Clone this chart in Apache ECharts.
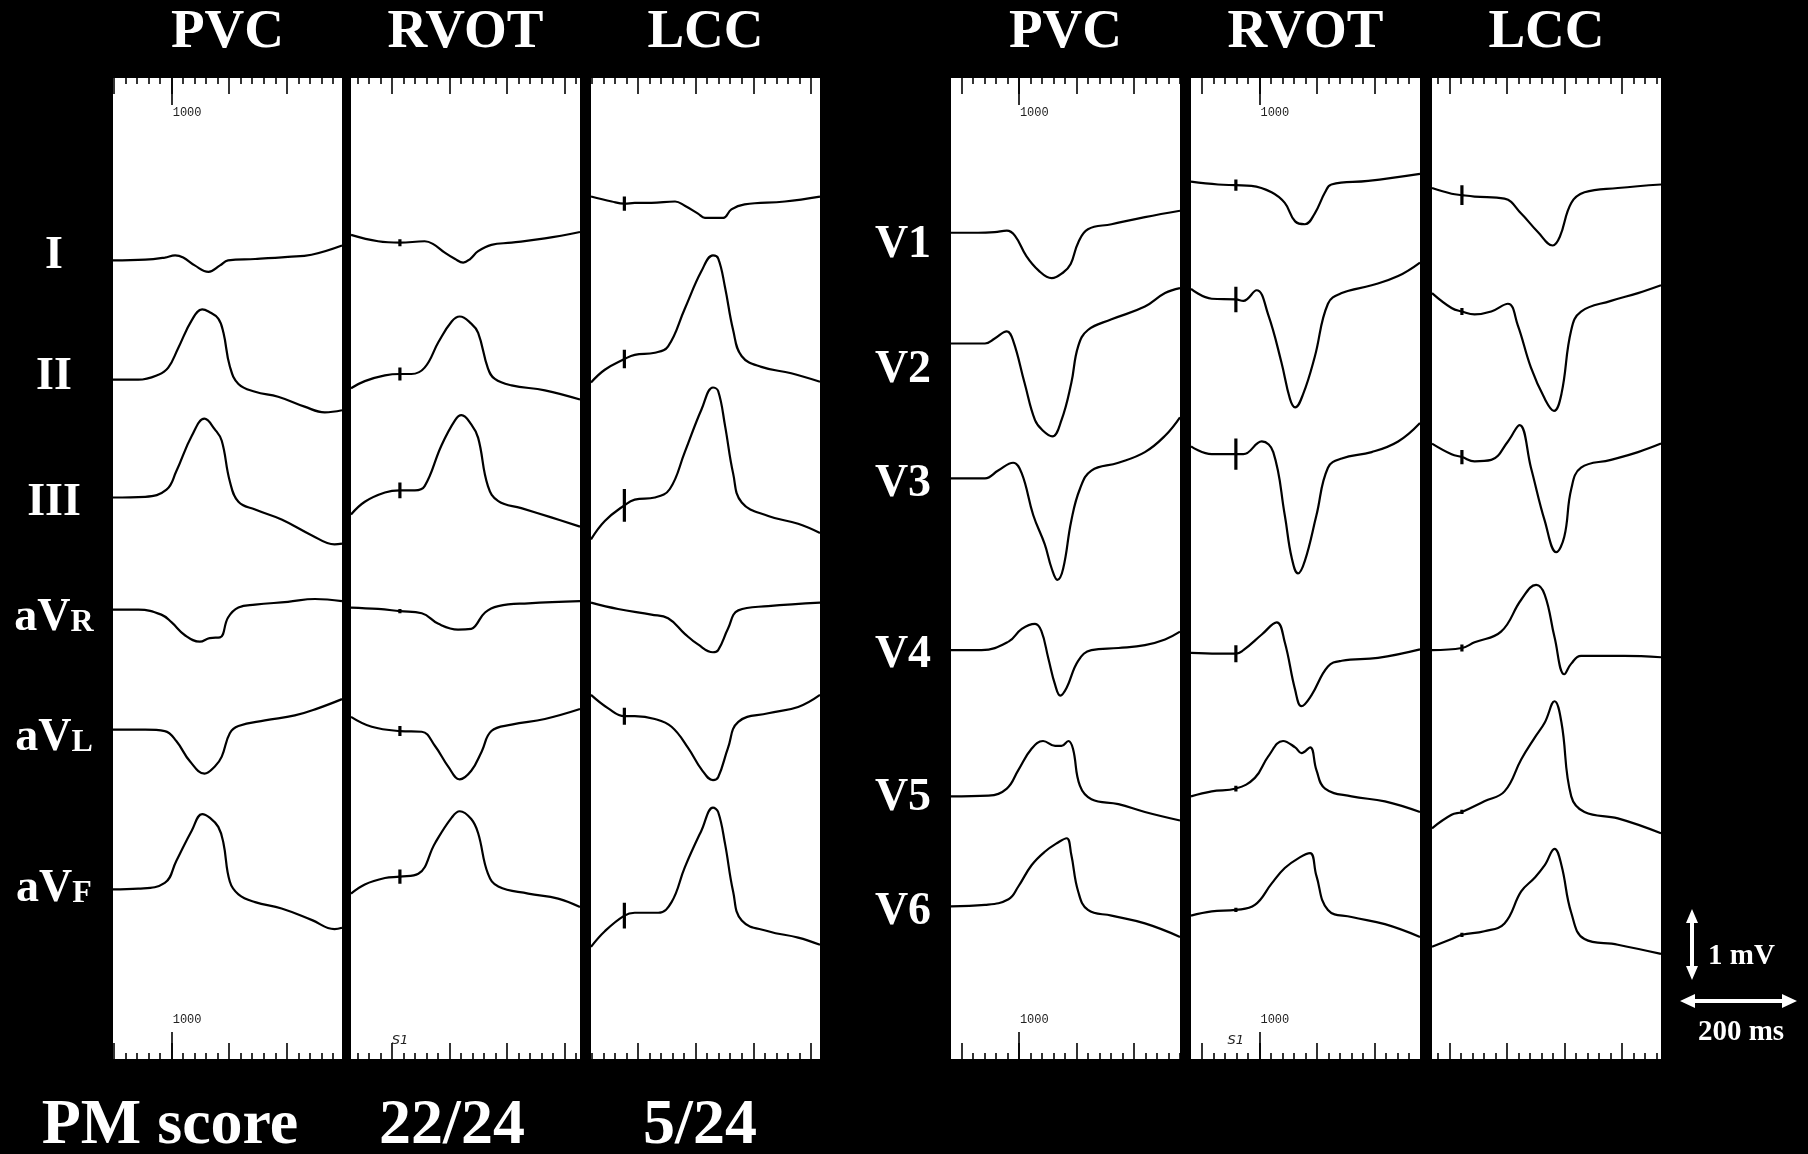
<!DOCTYPE html>
<html><head><meta charset="utf-8">
<script src="https://cdn.jsdelivr.net/npm/echarts@6/dist/echarts.min.js"></script>
<style>html,body{margin:0;padding:0;background:#000;}#c{width:1808px;height:1154px;}</style>
</head><body><div id="c"></div>
<script>
// ---------- labels ----------
const panelTitles = ['PVC', 'RVOT', 'LCC', 'PVC', 'RVOT', 'LCC'];
const limbLeads = ['I', 'II', 'III', 'aVR', 'aVL', 'aVF'];
const precordialLeads = ['V1', 'V2', 'V3', 'V4', 'V5', 'V6'];
const scoreTexts = ['PM score', '22/24', '5/24'];
const rulerLabel = '1000';
const stimLabel = 'S1';
const calibTexts = ['1 mV', '200 ms'];

// row baselines (mV above the bottom of each strip)
const rowBaseLimb = [11.24, 9.61, 7.90, 6.30, 4.65, 2.39];
const rowBasePrecordial = [11.68, 10.08, 8.18, 5.72, 3.70, 2.15];
const SPAN_MS = 398;      // time shown in each strip
const SPAN_MV = 13.82;    // voltage range of each strip

// ruler: first major tick (ms), long "1000" tick (ms)
const rulerPhase = [2, 71, 82, 18, 19, 30];
const rulerLongTick = [102, null, null, 118, 119, null];
// pacing stimulus time (ms) per strip
const stimTime = [null, 85, 58, null, 78, 52];

// ---------- traces: [ms, mV relative to row baseline] ----------
const PVC_I = [[0,0.01],[56,0.02],[90,0.05],[108,0.08],[122,0.05],[142,-0.06],[166,-0.15],[186,-0.06],[200,0.01],[247,0.03],[304,0.06],[345,0.09],[398,0.22]];
const PVC_II = [[0,-0.04],[44,-0.04],[79,0.03],[96,0.13],[113,0.40],[137,0.80],[155,0.95],[166,0.92],[183,0.82],[192,0.62],[203,0.15],[218,-0.10],[247,-0.21],[287,-0.28],[333,-0.42],[368,-0.50],[398,-0.47]];
const PVC_III = [[0,0.01],[56,0.02],[93,0.12],[110,0.38],[137,0.88],[159,1.12],[177,0.97],[189,0.81],[203,0.24],[218,-0.05],[247,-0.16],[293,-0.30],[345,-0.52],[385,-0.65],[398,-0.64]];
const PVC_aVR = [[0,0.03],[44,0.03],[84,-0.04],[102,-0.15],[125,-0.33],[151,-0.42],[168,-0.37],[186,-0.36],[200,-0.08],[218,0.06],[247,0.10],[304,0.14],[351,0.18],[398,0.15]];
const PVC_aVL = [[0,-0.01],[56,-0.01],[90,-0.03],[110,-0.17],[134,-0.46],[159,-0.63],[177,-0.53],[189,-0.39],[203,-0.06],[218,0.04],[264,0.12],[316,0.19],[356,0.29],[398,0.42]];
const PVC_aVF = [[0,0],[44,0.01],[90,0.09],[110,0.40],[137,0.83],[155,1.06],[168,1.01],[183,0.88],[192,0.65],[203,0.11],[218,-0.07],[247,-0.18],[293,-0.27],[345,-0.43],[385,-0.56],[398,-0.54]];

const RVOT_I = [[0,0.37],[47,0.28],[85,0.26],[128,0.28],[143,0.24],[163,0.12],[181,0.03],[195,-0.02],[207,0.03],[221,0.14],[244,0.23],[279,0.26],[337,0.32],[398,0.41]];
const RVOT_II = [[0,-0.16],[24,-0.06],[59,0.02],[85,0.04],[105,0.04],[128,0.13],[152,0.49],[175,0.78],[189,0.85],[209,0.75],[221,0.62],[238,0.12],[250,-0.03],[279,-0.12],[337,-0.19],[398,-0.32]];
const RVOT_III = [[0,-0.23],[24,-0.05],[59,0.08],[85,0.11],[111,0.11],[128,0.17],[157,0.74],[181,1.10],[192,1.17],[209,1.04],[221,0.85],[238,0.17],[256,-0.04],[296,-0.14],[348,-0.27],[398,-0.40]];
const RVOT_aVR = [[0,0.06],[47,0.04],[85,0.01],[123,-0.02],[152,-0.17],[186,-0.25],[209,-0.24],[216,-0.20],[233,-0.01],[256,0.08],[308,0.12],[398,0.15]];
const RVOT_aVL = [[0,0.17],[36,0.03],[85,-0.03],[123,-0.04],[146,-0.24],[169,-0.53],[189,-0.71],[209,-0.59],[227,-0.32],[244,-0.03],[279,0.06],[337,0.14],[398,0.28]];
const RVOT_aVF = [[0,-0.06],[24,0.07],[59,0.16],[85,0.18],[117,0.22],[146,0.65],[175,1.01],[189,1.10],[209,0.99],[221,0.79],[238,0.22],[256,0.04],[308,-0.06],[360,-0.13],[398,-0.25]];

const LCC_I = [[0,0.91],[36,0.84],[58,0.81],[76,0.82],[105,0.82],[146,0.84],[163,0.78],[186,0.67],[198,0.61],[215,0.61],[230,0.61],[244,0.73],[267,0.80],[337,0.84],[398,0.91]];
const LCC_II = [[0,-0.08],[24,0.10],[58,0.25],[76,0.31],[111,0.34],[134,0.43],[163,0.96],[192,1.49],[212,1.71],[221,1.67],[233,1.26],[247,0.66],[262,0.29],[296,0.14],[348,0.05],[398,-0.07]];
const LCC_III = [[0,-0.58],[24,-0.32],[58,-0.10],[76,-0.02],[111,0.01],[137,0.13],[163,0.65],[192,1.25],[212,1.56],[221,1.51],[233,1.02],[247,0.35],[262,-0.06],[308,-0.25],[360,-0.36],[398,-0.49]];
const LCC_aVR = [[0,0.13],[47,0.04],[105,-0.04],[134,-0.09],[163,-0.31],[186,-0.46],[212,-0.57],[221,-0.54],[238,-0.24],[256,0.02],[308,0.08],[398,0.13]];
const LCC_aVL = [[0,0.48],[30,0.29],[58,0.18],[76,0.18],[111,0.14],[140,0.03],[169,-0.27],[192,-0.57],[212,-0.72],[221,-0.68],[238,-0.27],[256,0.10],[308,0.22],[360,0.31],[398,0.48]];
const LCC_aVF = [[0,-0.81],[24,-0.59],[58,-0.37],[76,-0.33],[117,-0.33],[140,-0.18],[163,0.31],[192,0.83],[212,1.15],[221,1.09],[233,0.64],[247,-0.03],[262,-0.44],[308,-0.59],[360,-0.68],[398,-0.78]];

const PVC_V1 = [[0,-0.04],[47,-0.04],[76,-0.03],[97,-0.01],[111,-0.08],[131,-0.37],[152,-0.57],[175,-0.68],[195,-0.60],[208,-0.48],[221,-0.18],[238,0.01],[279,0.08],[337,0.18],[398,0.27]];
const PVC_V2 = [[0,0],[59,0],[76,0.07],[97,0.17],[108,0.04],[128,-0.56],[146,-1.08],[160,-1.23],[176,-1.31],[192,-1.08],[209,-0.56],[221,-0.04],[238,0.19],[279,0.34],[337,0.52],[372,0.71],[398,0.78]];
const PVC_V3 = [[0,0],[59,0],[82,0.11],[108,0.22],[123,0.07],[143,-0.52],[163,-0.93],[175,-1.27],[185,-1.43],[195,-1.27],[209,-0.60],[224,-0.15],[244,0.11],[291,0.22],[337,0.37],[372,0.60],[398,0.86]];
const PVC_V4 = [[0,0.04],[53,0.04],[100,0.16],[123,0.34],[146,0.41],[157,0.31],[169,-0.07],[181,-0.45],[190,-0.60],[201,-0.49],[221,-0.11],[244,0.04],[291,0.07],[337,0.11],[372,0.19],[398,0.30]];
const PVC_V5 = [[0,0],[65,0.01],[97,0.11],[117,0.37],[140,0.67],[160,0.78],[181,0.71],[192,0.71],[204,0.78],[212,0.67],[224,0.15],[244,-0.04],[291,-0.11],[337,-0.22],[398,-0.34]];
const PVC_V6 = [[0,0],[59,0.02],[100,0.10],[117,0.28],[140,0.58],[163,0.77],[186,0.90],[201,0.96],[209,0.73],[221,0.21],[238,-0.05],[279,-0.13],[337,-0.24],[398,-0.43]];

const RVOT_V1 = [[0,0.68],[47,0.64],[78,0.63],[105,0.62],[140,0.53],[163,0.38],[181,0.12],[198,0.08],[215,0.23],[233,0.53],[244,0.64],[308,0.69],[398,0.79]];
const RVOT_V2 = [[0,0.77],[36,0.63],[78,0.62],[91,0.60],[114,0.75],[134,0.41],[157,-0.26],[172,-0.78],[181,-0.90],[195,-0.71],[215,-0.19],[238,0.56],[262,0.71],[314,0.82],[360,0.95],[398,1.14]];
const RVOT_V3 = [[0,0.45],[36,0.34],[78,0.34],[91,0.34],[123,0.52],[143,0.37],[163,-0.52],[175,-1.12],[186,-1.34],[198,-1.16],[218,-0.52],[238,0.15],[262,0.28],[314,0.37],[360,0.52],[398,0.78]];
const RVOT_V4 = [[0,0],[47,-0.01],[78,-0.01],[91,0.04],[123,0.26],[149,0.43],[163,0.15],[181,-0.52],[192,-0.75],[209,-0.60],[238,-0.19],[262,-0.11],[325,-0.07],[398,0.05]];
const RVOT_V5 = [[0,0],[36,0.07],[78,0.11],[111,0.26],[134,0.56],[160,0.78],[181,0.69],[192,0.61],[207,0.69],[218,0.37],[233,0.11],[279,0],[337,-0.07],[398,-0.22]];
const RVOT_V6 = [[0,-0.13],[36,-0.07],[78,-0.05],[111,0.02],[140,0.32],[163,0.54],[189,0.69],[207,0.75],[218,0.43],[238,-0.05],[279,-0.15],[337,-0.25],[398,-0.43]];

const LCC_V1 = [[0,0.59],[34,0.51],[52,0.49],[74,0.47],[126,0.44],[155,0.23],[184,-0.03],[210,-0.22],[222,-0.10],[242,0.38],[265,0.53],[323,0.59],[398,0.64]];
const LCC_V2 = [[0,0.71],[34,0.50],[52,0.45],[74,0.41],[103,0.45],[132,0.56],[149,0.26],[172,-0.34],[196,-0.78],[212,-0.95],[225,-0.71],[242,0.19],[259,0.45],[311,0.60],[358,0.71],[398,0.82]];
const LCC_V3 = [[0,0.49],[34,0.34],[52,0.30],[74,0.24],[103,0.26],[132,0.52],[152,0.75],[172,0.15],[196,-0.60],[216,-1.04],[230,-0.82],[242,-0.15],[259,0.15],[311,0.26],[358,0.37],[398,0.49]];
const LCC_V4 = [[0,0.04],[52,0.07],[74,0.15],[120,0.30],[155,0.75],[181,0.96],[196,0.82],[213,0.22],[230,-0.30],[242,-0.15],[259,-0.04],[334,-0.04],[398,-0.06]];
const LCC_V5 = [[0,-0.45],[34,-0.26],[52,-0.22],[91,-0.07],[126,0.07],[155,0.52],[178,0.82],[196,1.04],[213,1.34],[225,1.04],[242,0],[265,-0.22],[323,-0.31],[398,-0.52]];
const LCC_V6 = [[0,-0.57],[34,-0.46],[52,-0.40],[91,-0.35],[126,-0.24],[155,0.21],[178,0.40],[196,0.58],[213,0.81],[225,0.58],[242,-0.09],[265,-0.46],[323,-0.54],[398,-0.67]];

// pacing spikes: [centre mV, half height mV] per lead
const RVOT_limbStim = [[0.26,0.05],[0.04,0.09],[0.11,0.11],[0.01,0.03],[-0.03,0.07],[0.18,0.10]];
const LCC_limbStim = [[0.81,0.10],[0.25,0.13],[-0.10,0.23],null,[0.18,0.12],[-0.37,0.18]];
const RVOT_precStim = [[0.63,0.08],[0.62,0.18],[0.34,0.22],[-0.01,0.12],[0.11,0.04],[-0.05,0.03]];
const LCC_precStim = [[0.49,0.14],[0.45,0.05],[0.30,0.10],[0.07,0.05],[-0.22,0.03],[-0.40,0.03]];

// ---------- layout ----------
const panelLeft = [113, 351, 591, 951, 1191, 1432];
const PANEL_W = 229, PANEL_TOP = 78, PANEL_H = 981;

const panelTraces = [
  [PVC_I, PVC_II, PVC_III, PVC_aVR, PVC_aVL, PVC_aVF],
  [RVOT_I, RVOT_II, RVOT_III, RVOT_aVR, RVOT_aVL, RVOT_aVF],
  [LCC_I, LCC_II, LCC_III, LCC_aVR, LCC_aVL, LCC_aVF],
  [PVC_V1, PVC_V2, PVC_V3, PVC_V4, PVC_V5, PVC_V6],
  [RVOT_V1, RVOT_V2, RVOT_V3, RVOT_V4, RVOT_V5, RVOT_V6],
  [LCC_V1, LCC_V2, LCC_V3, LCC_V4, LCC_V5, LCC_V6]
];
const panelStims = [null, RVOT_limbStim, LCC_limbStim, null, RVOT_precStim, LCC_precStim];

function ticks(phase, step) {
  const out = [];
  let t = phase - Math.floor(phase / step) * step;
  for (; t <= SPAN_MS + 0.01; t += step) out.push(+t.toFixed(2));
  return out;
}

const grid = [], xAxis = [], yAxis = [], series = [];
const AX_PER = 7;
for (let p = 0; p < 6; p++) {
  grid.push({left: panelLeft[p], top: PANEL_TOP, width: PANEL_W, height: PANEL_H,
    show: true, backgroundColor: '#fff', borderWidth: 0, containLabel: false});
  yAxis.push({type: 'value', gridIndex: p, min: 0, max: SPAN_MV, show: false});
  const majors = ticks(rulerPhase[p], 100);
  const minors = ticks(rulerPhase[p], 20).filter(v => !majors.some(m => Math.abs(m - v) < 0.5));
  const longT = rulerLongTick[p];
  const mk = (pos, vals, len, show) => ({
    type: 'value', gridIndex: p, min: 0, max: SPAN_MS, position: pos,
    axisLine: {show: false, onZero: false},
    axisTick: {show: show, inside: true, length: len, customValues: vals,
      lineStyle: {color: '#000', width: 1.6}},
    axisLabel: {show: false}, splitLine: {show: false}
  });
  xAxis.push({type: 'value', gridIndex: p, min: 0, max: SPAN_MS, show: false});
  xAxis.push(mk('top', minors, 6, true));
  xAxis.push(mk('top', majors, 16, true));
  xAxis.push(mk('top', longT != null ? [longT] : [0], 27, longT != null));
  xAxis.push(mk('bottom', minors, 6, true));
  xAxis.push(mk('bottom', majors, 16, true));
  xAxis.push(mk('bottom', longT != null ? [longT] : [0], 27, longT != null));

  const bases = p < 3 ? rowBaseLimb : rowBasePrecordial;
  const names = p < 3 ? limbLeads : precordialLeads;
  panelTraces[p].forEach((tr, i) => {
    series.push({
      type: 'line', name: panelTitles[p] + ' ' + names[i],
      xAxisIndex: p * AX_PER, yAxisIndex: p,
      data: tr.map(d => [d[0], bases[i] + d[1]]),
      smooth: 0.42, showSymbol: false, symbol: 'none',
      lineStyle: {color: '#000', width: 2.2}, silent: true
    });
  });
  const st = panelStims[p];
  if (st) {
    st.forEach((s, i) => {
      if (!s) return;
      series.push({
        type: 'line', xAxisIndex: p * AX_PER, yAxisIndex: p,
        data: [[stimTime[p], bases[i] + s[0] - s[1]], [stimTime[p], bases[i] + s[0] + s[1]]],
        smooth: false, showSymbol: false, symbol: 'none',
        lineStyle: {color: '#000', width: 3.2}, silent: true
      });
    });
  }
}

const chart = echarts.init(document.getElementById('c'), null, {renderer: 'canvas'});
chart.setOption({
  backgroundColor: '#000', animation: false,
  grid, xAxis, yAxis, series
});

// ---------- text & annotations ----------
const serif = '"Liberation Serif", "Times New Roman", serif';
const W = '#fff';
const graphic = [];
const txt = (x, y, text, size, extra) => Object.assign({
  type: 'text', x, y, silent: true,
  style: Object.assign({text, fill: W, font: 'bold ' + size + 'px ' + serif,
    align: 'center', verticalAlign: 'middle'}, extra || {})
});
panelTitles.forEach((t, p) => graphic.push(txt(panelLeft[p] + PANEL_W / 2, 33, t, 55)));

const leadLabelY = [256, 377, 503, 618, 738, 889];
const precLabelY = [245, 370, 484, 655, 798, 912];
const LABEL_X = 54, BIG = 46, SMALL = 32;
// measure with canvas so the small capital sits on the same baseline
const mctx = document.createElement('canvas').getContext('2d');
const measure = (s, size) => { mctx.font = 'bold ' + size + 'px ' + serif; return mctx.measureText(s).width; };
limbLeads.forEach((n, i) => {
  const m = /^aV(.)$/.exec(n);
  if (!m) { graphic.push(txt(LABEL_X, leadLabelY[i], n, BIG)); return; }
  const wBig = measure('aV', BIG), wSmall = measure(m[1], SMALL);
  const left = LABEL_X - (wBig + wSmall) / 2;
  const y = leadLabelY[i];
  graphic.push(txt(left, y, 'aV', BIG, {align: 'left'}));
  // same baseline: middle of em-box shifts by ~0.305 em
  graphic.push(txt(left + wBig, y + 0.305 * (BIG - SMALL), m[1], SMALL, {align: 'left'}));
});
precordialLeads.forEach((n, i) => graphic.push(txt(903, precLabelY[i], n, BIG)));

graphic.push(txt(170, 1126, scoreTexts[0], 64));
graphic.push(txt(452, 1126, scoreTexts[1], 64));
graphic.push(txt(700, 1126, scoreTexts[2], 64));

// ruler "1000" labels and S1 labels (positions from the axes)
for (let p = 0; p < 6; p++) {
  const lt = rulerLongTick[p];
  if (lt != null) {
    const x = chart.convertToPixel({xAxisIndex: p * AX_PER, yAxisIndex: p}, [lt, 0])[0];
    [113, 1020].forEach(y => graphic.push({type: 'text', x: x + 1, y, silent: true,
      style: {text: rulerLabel, fill: '#222', font: '12px "Liberation Mono", "DejaVu Sans Mono", monospace',
        align: 'left', verticalAlign: 'middle'}}));
  }
  if (p === 1 || p === 4) {
    const x = chart.convertToPixel({xAxisIndex: p * AX_PER, yAxisIndex: p}, [stimTime[p], 0])[0];
    graphic.push({type: 'text', x: x, y: 1041, silent: true,
      style: {text: stimLabel, fill: '#222', font: 'italic 13px "DejaVu Sans", sans-serif',
        align: 'center', verticalAlign: 'middle'}});
  }
}

// calibration arrows
graphic.push({type: 'polygon', silent: true, shape: {points: [
  [1692, 909], [1698, 923], [1694, 923], [1694, 966], [1698, 966], [1692, 980],
  [1686, 966], [1690, 966], [1690, 923], [1686, 923]]}, style: {fill: W}});
graphic.push({type: 'polygon', silent: true, shape: {points: [
  [1680, 1001], [1695, 994], [1695, 999], [1782, 999], [1782, 994], [1797, 1001],
  [1782, 1008], [1782, 1003], [1695, 1003], [1695, 1008]]}, style: {fill: W}});
graphic.push(txt(1708, 957, calibTexts[0], 29, {align: 'left'}));
graphic.push(txt(1741, 1033, calibTexts[1], 29));

chart.setOption({graphic});
</script></body></html>
